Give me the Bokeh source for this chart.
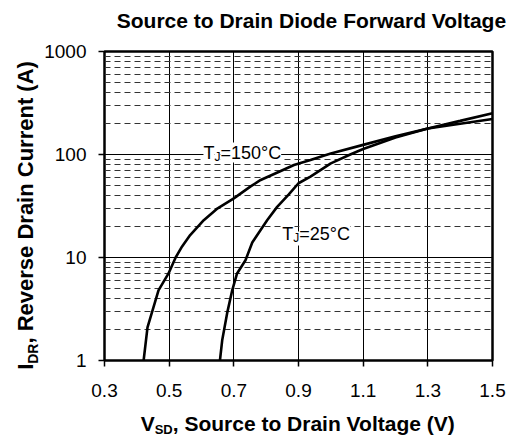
import math
from bokeh.plotting import figure
from bokeh.models import FixedTicker, NumeralTickFormatter, Label
from bokeh.embed import file_html
from bokeh.resources import INLINE

# ---- data ----
v_150 = [0.421, 0.433, 0.447, 0.467, 0.498, 0.52, 0.54, 0.565, 0.607, 0.65, 0.70, 0.752,
         0.783, 0.84, 0.886, 0.937, 0.98, 1.0, 1.1, 1.2, 1.3, 1.4, 1.5]
i_150 = [1.0, 2.1, 2.95, 4.8, 7.0, 10.0, 12.8, 16.5, 23.0, 30.0, 37.5, 49.0,
         56.6, 68.0, 79.0, 88.6, 98.0, 102.0, 124.0, 150.0, 179.0, 199.0, 221.0]

v_25 = [0.657, 0.664, 0.68, 0.695, 0.71, 0.736, 0.757, 0.803, 0.834, 0.87, 0.90, 0.937,
        1.0, 1.06, 1.1, 1.2, 1.3, 1.4, 1.5]
i_25 = [1.0, 1.57, 2.95, 4.8, 7.0, 9.4, 14.0, 23.0, 31.0, 41.0, 52.6, 61.0,
        82.0, 100.0, 113.0, 146.0, 179.0, 212.0, 252.0]

x_ticks = [0.3, 0.5, 0.7, 0.9, 1.1, 1.3, 1.5]
y_ticks = [1, 10, 100, 1000]
y_minor = [2, 3, 4, 5, 6, 7, 8, 9, 20, 30, 40, 50, 60, 70, 80, 90,
           200, 300, 400, 500, 600, 700, 800, 900]

title_text = "Source to Drain Diode Forward Voltage"
xlabel_parts = ["V", "SD", ", Source to Drain Voltage (V)"]
ylabel_parts = ["I", "DR", ", Reverse Drain Current (A)"]
lab150_parts = ["T", "J", "=150°C"]
lab25_parts = ["T", "J", "=25°C"]

FONT = "Liberation Sans"
MID = 0.3465  # distance from baseline to the middle of the text box, in em

p = figure(width=512, height=438, y_axis_type="log",
           x_range=(0.3, 1.5), y_range=(1, 1000),
           output_backend="svg", toolbar_location=None,
           min_border_left=104, min_border_right=20,
           min_border_top=51, min_border_bottom=78)
p.title.visible = False
p.background_fill_color = "white"
p.border_fill_color = "white"
p.outline_line_color = "black"
p.outline_line_width = 2.5

# axes
p.xaxis.ticker = FixedTicker(ticks=x_ticks)
p.xaxis.formatter = NumeralTickFormatter(format="0.0")
p.yaxis.ticker = FixedTicker(ticks=y_ticks, minor_ticks=y_minor)
p.yaxis.formatter = NumeralTickFormatter(format="0")
for ax in (p.xaxis[0], p.yaxis[0]):
    ax.axis_line_color = None
    ax.major_tick_in = 0
    ax.major_tick_out = 6
    ax.major_tick_line_color = "black"
    ax.major_tick_line_width = 1.5
    ax.minor_tick_line_color = None
    ax.major_label_text_font = FONT
    ax.major_label_text_font_size = "19px"
    ax.major_label_text_color = "black"
p.xaxis.major_label_standoff = 17
p.yaxis.major_label_standoff = 12

# grids
p.xgrid.ticker = FixedTicker(ticks=x_ticks)
p.xgrid.grid_line_color = "black"
p.xgrid.grid_line_width = 1
p.ygrid.ticker = FixedTicker(ticks=y_ticks, minor_ticks=y_minor)
p.ygrid.grid_line_color = "black"
p.ygrid.grid_line_width = 1
p.ygrid.minor_grid_line_color = "#333333"
p.ygrid.minor_grid_line_width = 1
p.ygrid.minor_grid_line_dash = "6 4"

# curves
p.line(v_150, i_150, line_color="black", line_width=2.6)
p.line(v_25, i_25, line_color="black", line_width=2.6)


def composite(x, y, parts, sizes, widths, shifts, x_off, y_off, bold, places,
              angle=0.0, bg=None, baseline="alphabetic"):
    """Place text pieces side by side; shifts = baseline drop (px) of each piece."""
    pos = 0.0
    for text, size, w, sh, place in zip(parts, sizes, widths, shifts, places):
        mid = MID * size if baseline == "middle" else 0.0
        if angle == 0.0:
            xo, yo = x_off + pos, y_off - sh + mid
        else:
            xo, yo = x_off + sh - mid, y_off + pos
        lab = Label(x=x, y=y, text=text, x_offset=xo, y_offset=yo, angle=angle,
                    text_font=FONT, text_font_size=f"{size}px",
                    text_font_style="bold" if bold else "normal",
                    text_color="black", text_align="left",
                    text_baseline=baseline)
        if bg:
            lab.background_fill_color = bg
        p.add_layout(lab, place)
        pos += w


# in-plot labels (regular 18px, subscript 12px)
composite(0.606, 100, lab150_parts, [18, 12, 18], [0.611 * 18, 0.5 * 12, 3.374 * 18 - 11.0],
          [0, 4, 0], 0, 2, False, ["center"] * 3, bg="white")
composite(0.85, 20, lab25_parts, [18, 12, 18], [0.611 * 18, 0.5 * 12, 2.818 * 18],
          [0, 4, 0], 0, -8, False, ["center"] * 3, bg="white")

# x axis label (bold 21px, subscript 13px); baseline 70px below the frame
xw = [0.667 * 21, 1.389 * 13, 13.503 * 21]
composite(0.9, 1, xlabel_parts, [21, 13, 21], xw, [0, 4, 0],
          -sum(xw) / 2, -70, True, ["left", "right", "below"], baseline="middle")

# y axis label (bold 22px, subscript 14px, rotated); baseline 71px left of the frame
yw = [0.278 * 22, 1.444 * 14, 12.836 * 22]
composite(0.3, 1, ylabel_parts, [22, 14, 22], yw, [0, 4, 0],
          -71, 145.0 - sum(yw) / 2, True, ["below", "above", "left"],
          angle=math.pi / 2, baseline="middle")

# title (baseline 24px above the frame)
p.add_layout(Label(x=0.94, y=1000, text=title_text, x_offset=0, y_offset=24 + MID * 21,
                   text_font=FONT, text_font_size="21px", text_font_style="bold",
                   text_color="black", text_align="center", text_baseline="middle"),
             "above")

open("out.html", "w").write(file_html(p, INLINE))
